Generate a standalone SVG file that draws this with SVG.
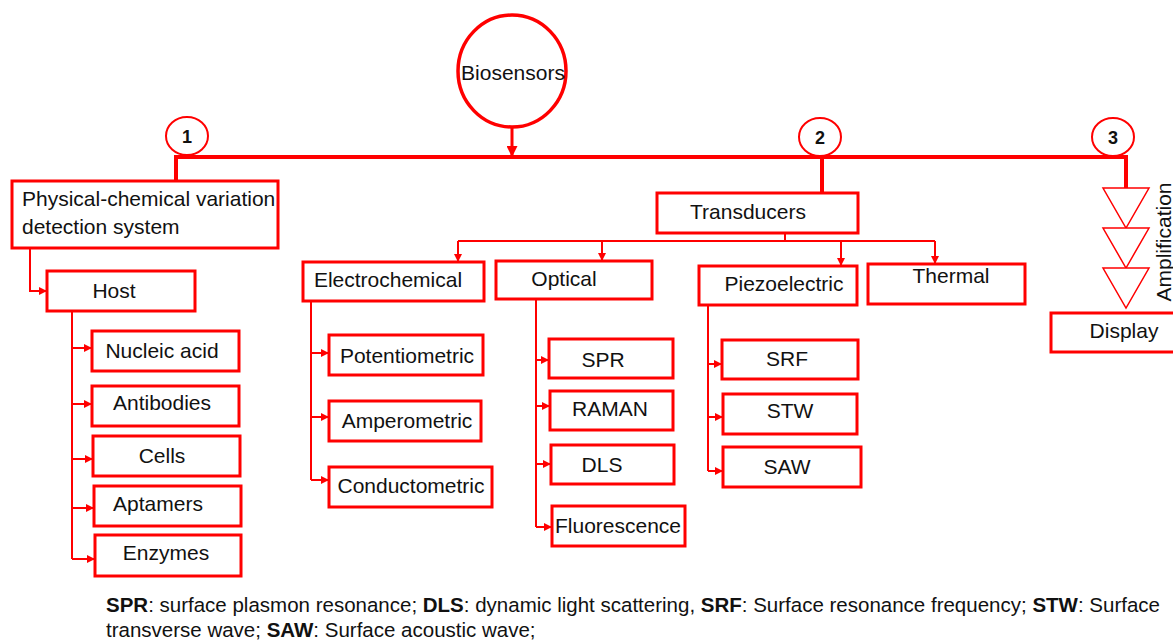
<svg xmlns="http://www.w3.org/2000/svg" width="1173" height="644" viewBox="0 0 1173 644">
<style>
.box{fill:#fff;stroke:#ff0000;stroke-width:3}
.num{fill:#fff;stroke:#ff0000;stroke-width:2}
.t{font-family:"Liberation Sans",Arial,sans-serif;font-size:21px;fill:#111;text-anchor:middle}
.tl{font-family:"Liberation Sans",Arial,sans-serif;font-size:21px;fill:#111}
.n{font-family:"Liberation Sans",Arial,sans-serif;font-size:18px;font-weight:bold;fill:#111;text-anchor:middle}
.main{fill:none;stroke:#ff0000;stroke-width:4}
.c{fill:none;stroke:#ff0000;stroke-width:2}
.ca{fill:none;stroke:#ff0000;stroke-width:2;marker-end:url(#ah)}
.tri{fill:#fff;stroke:#ff0000;stroke-width:1.5}
.leg{font-family:"Liberation Sans",Arial,sans-serif;font-size:20.5px;fill:#111}
</style>
<defs>
<marker id="ah" markerUnits="userSpaceOnUse" markerWidth="9" markerHeight="8" refX="8" refY="4" orient="auto">
<path d="M0 0 L8 4 L0 8 Z" fill="#ff0000"/>
</marker>
<marker id="ahb" markerUnits="userSpaceOnUse" markerWidth="12" markerHeight="11" refX="11" refY="5.5" orient="auto">
<path d="M0 0 L11 5.5 L0 11 Z" fill="#ff0000"/>
</marker>
</defs>
<g id="connectors">
<path class="main" d="M176 181 V157 H1126 V188"/>
<path class="main" d="M512 127 V157" style="stroke-width:3;marker-end:url(#ahb)"/>
<path class="main" d="M822 157 V193"/>
<path class="ca" d="M30 248 V291 H47"/>
<path class="c" d="M72 311 V559"/>
<path class="ca" d="M72 348 H92"/>
<path class="ca" d="M72 404 H92"/>
<path class="ca" d="M72 459 H93"/>
<path class="ca" d="M72 508 H94"/>
<path class="ca" d="M72 559 H95"/>
<path class="c" d="M785 233 V241 M458 241 H935"/>
<path class="ca" d="M458 241 V262"/>
<path class="ca" d="M602 241 V261"/>
<path class="ca" d="M841 241 V266"/>
<path class="ca" d="M935 241 V264"/>
<path class="c" d="M311 301 V480"/>
<path class="ca" d="M311 353 H329"/>
<path class="ca" d="M311 417 H329"/>
<path class="ca" d="M311 480 H329"/>
<path class="c" d="M536 299 V527"/>
<path class="ca" d="M536 360 H549"/>
<path class="ca" d="M536 406 H550"/>
<path class="ca" d="M536 464 H551"/>
<path class="ca" d="M536 527 H552"/>
<path class="c" d="M708 305 V471"/>
<path class="ca" d="M708 364 H722"/>
<path class="ca" d="M708 417 H723"/>
<path class="ca" d="M708 471 H723"/>
</g>
<g id="biosensors">
<ellipse class="box" cx="512" cy="71" rx="54" ry="56" style="stroke-width:3.5"/>
<text class="t" x="513" y="80">Biosensors</text>
</g>
<g id="num1"><ellipse class="num" cx="187" cy="136" rx="21" ry="19"/><text class="n" x="187" y="143">1</text></g>
<g id="num2"><ellipse class="num" cx="820" cy="137" rx="21" ry="19"/><text class="n" x="820" y="144">2</text></g>
<g id="num3"><ellipse class="num" cx="1113" cy="137" rx="21" ry="19"/><text class="n" x="1113" y="144">3</text></g>
<g id="physical">
<rect class="box" x="12" y="181" width="266" height="67"/>
<text class="tl" x="22" y="206">Physical-chemical variation</text>
<text class="tl" x="22" y="234">detection system</text>
</g>
<g id="host"><rect class="box" x="47" y="271" width="148" height="40"/><text class="t" x="114" y="298">Host</text></g>
<g id="nucleic"><rect class="box" x="92" y="331" width="147" height="40"/><text class="t" x="162" y="358">Nucleic acid</text></g>
<g id="antibodies"><rect class="box" x="92" y="386" width="147" height="40"/><text class="t" x="162" y="410">Antibodies</text></g>
<g id="cells"><rect class="box" x="93" y="436" width="147" height="40"/><text class="t" x="162" y="463">Cells</text></g>
<g id="aptamers"><rect class="box" x="94" y="486" width="147" height="40"/><text class="t" x="158" y="511">Aptamers</text></g>
<g id="enzymes"><rect class="box" x="95" y="535" width="146" height="41"/><text class="t" x="166" y="560">Enzymes</text></g>
<g id="transducers"><rect class="box" x="657" y="193" width="201" height="40"/><text class="t" x="748" y="219">Transducers</text></g>
<g id="electrochemical"><rect class="box" x="303" y="262" width="181" height="39"/><text class="t" x="388" y="287">Electrochemical</text></g>
<g id="potentiometric"><rect class="box" x="329" y="335" width="154" height="40"/><text class="t" x="407" y="363">Potentiometric</text></g>
<g id="amperometric"><rect class="box" x="329" y="401" width="152" height="40"/><text class="t" x="407" y="428">Amperometric</text></g>
<g id="conductometric"><rect class="box" x="329" y="467" width="163" height="40"/><text class="t" x="411" y="493">Conductometric</text></g>
<g id="optical"><rect class="box" x="496" y="261" width="156" height="38"/><text class="t" x="564" y="286">Optical</text></g>
<g id="spr"><rect class="box" x="549" y="339" width="124" height="39"/><text class="t" x="603" y="367">SPR</text></g>
<g id="raman"><rect class="box" x="550" y="391" width="123" height="39"/><text class="t" x="610" y="416">RAMAN</text></g>
<g id="dls"><rect class="box" x="551" y="445" width="123" height="39"/><text class="t" x="602" y="472">DLS</text></g>
<g id="fluorescence"><rect class="box" x="552" y="506" width="133" height="40"/><text class="t" x="618" y="533">Fluorescence</text></g>
<g id="piezoelectric"><rect class="box" x="699" y="266" width="158" height="39"/><text class="t" x="784" y="291">Piezoelectric</text></g>
<g id="srf"><rect class="box" x="722" y="340" width="136" height="39"/><text class="t" x="787" y="366">SRF</text></g>
<g id="stw"><rect class="box" x="723" y="394" width="134" height="40"/><text class="t" x="790" y="418">STW</text></g>
<g id="saw"><rect class="box" x="723" y="447" width="138" height="40"/><text class="t" x="787" y="474">SAW</text></g>
<g id="thermal"><rect class="box" x="868" y="264" width="157" height="40"/><text class="t" x="951" y="283">Thermal</text></g>
<g id="amplification">
<path class="tri" d="M1103 188 H1149 L1126 228 Z"/>
<path class="tri" d="M1103 228 H1149 L1126 268 Z"/>
<path class="tri" d="M1103 268 H1149 L1126 308 Z"/>
<text class="t" transform="translate(1171 242) rotate(-90)">Amplification</text>
</g>
<g id="display"><rect class="box" x="1051" y="313" width="130" height="39"/><text class="t" x="1124" y="338">Display</text></g>
<g id="legend">
<text class="leg" x="106" y="612"><tspan font-weight="bold">SPR</tspan>: surface plasmon resonance; <tspan font-weight="bold">DLS</tspan>: dynamic light scattering, <tspan font-weight="bold">SRF</tspan>: Surface resonance frequency; <tspan font-weight="bold">STW</tspan>: Surface</text>
<text class="leg" x="106" y="637">transverse wave; <tspan font-weight="bold">SAW</tspan>: Surface acoustic wave;</text>
</g>
</svg>
